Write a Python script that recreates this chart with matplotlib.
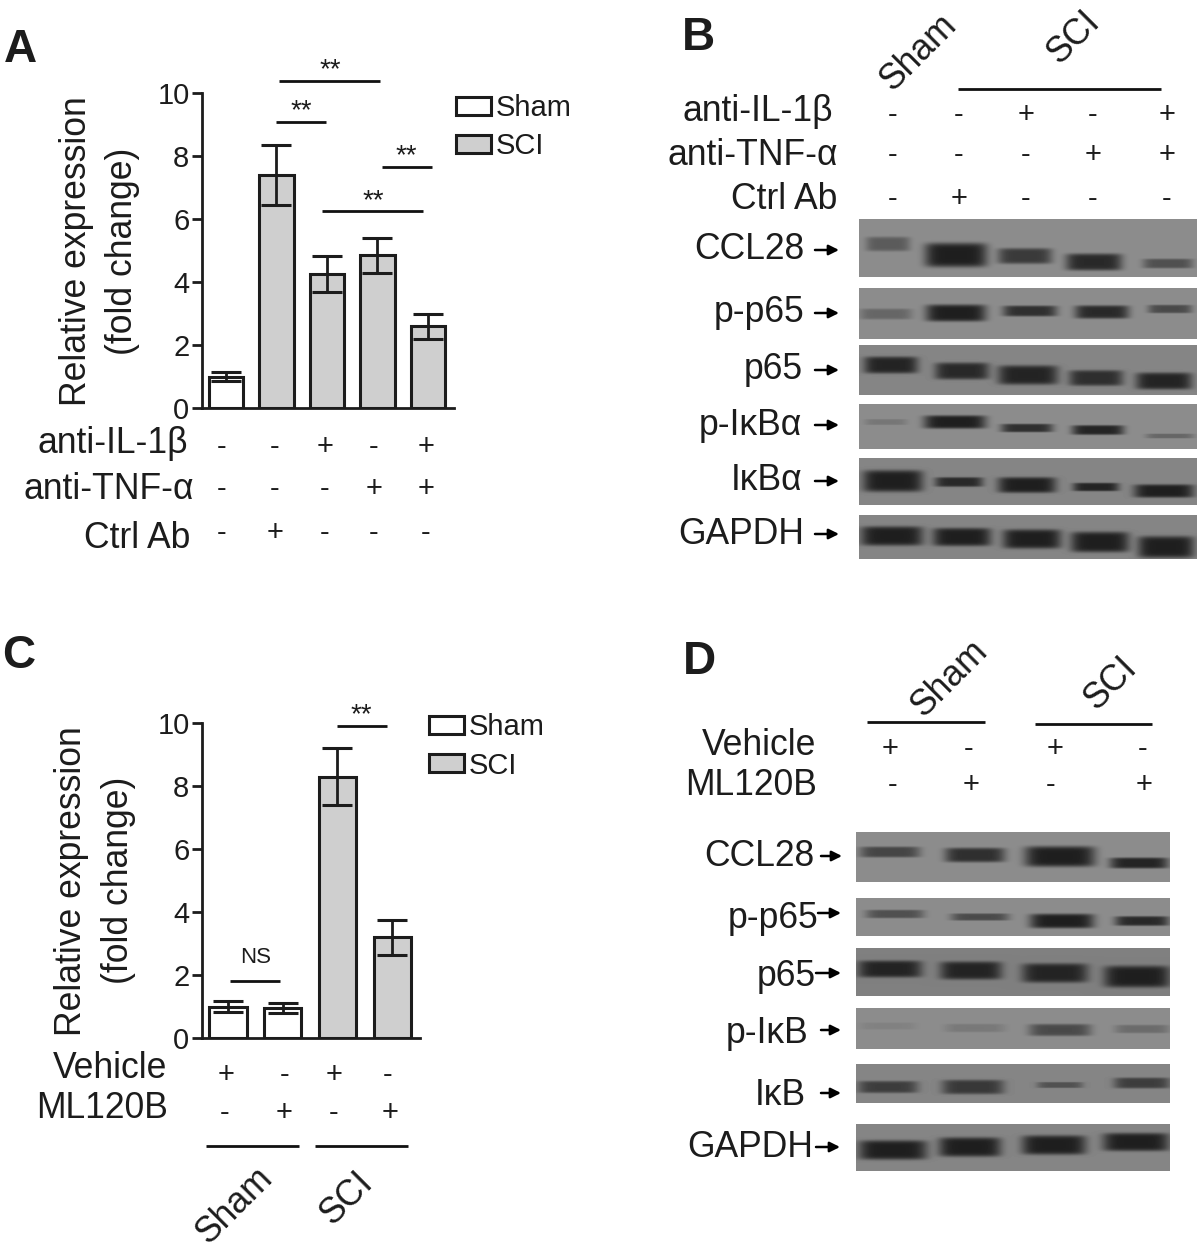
import numpy as np
import matplotlib
matplotlib.use("Agg")
import matplotlib.pyplot as plt
from matplotlib.patches import Patch

plt.rcParams['font.family'] = ['Liberation Sans', 'DejaVu Sans']

W, H = 1200, 1250
INK = '#1c1c1c'
GREY = '#cfcfcf'

# panel A
a_values = [1.0, 7.4, 4.25, 4.85, 2.6]
a_errors = [0.15, 0.95, 0.58, 0.55, 0.4]
a_colors = ['white', GREY, GREY, GREY, GREY]
a_il1 = ['-', '-', '+', '-', '+']
a_tnf = ['-', '-', '-', '+', '+']
a_ctrl = ['-', '+', '-', '-', '-']

# panel C
c_values = [1.0, 0.95, 8.3, 3.2]
c_errors = [0.17, 0.15, 0.9, 0.55]
c_colors = ['white', 'white', GREY, GREY]
c_vehicle = ['+', '-', '+', '-']
c_ml120b = ['-', '+', '-', '+']

yticks = [0, 2, 4, 6, 8, 10]

# panel B band strength, one per lane
b_ccl28 = [0.45, 1.0, 0.75, 0.9, 0.55]
b_pp65 = [0.35, 1.0, 0.85, 0.9, 0.6]
b_p65 = [0.95, 0.9, 0.95, 0.85, 0.95]
b_pikb = [0.2, 1.0, 0.85, 0.95, 0.35]
b_ikb = [1.0, 0.9, 1.0, 0.95, 1.0]
b_gapdh = [1.0, 1.0, 1.0, 1.0, 1.0]

# panel D band strength
d_ccl28 = [0.65, 0.85, 1.0, 0.95]
d_pp65 = [0.55, 0.6, 1.0, 0.9]
d_p65 = [0.95, 0.95, 0.95, 1.0]
d_pikb = [0.1, 0.18, 0.6, 0.3]
d_ikb = [0.7, 0.75, 0.5, 0.7]
d_gapdh = [1.0, 1.0, 1.0, 1.0]

b_names = ['CCL28', 'p-p65', 'p65', 'p-IκBα', 'IκBα', 'GAPDH']
d_names = ['CCL28', 'p-p65', 'p65', 'p-IκB', 'IκB', 'GAPDH']


def px_axes(left, right, top, bottom):
    return fig.add_axes([left / W, 1 - bottom / H, (right - left) / W, (bottom - top) / H])


def txt(x, y, s, size=25.6, ha='center', rot=0, **kw):
    # va center sits a little high for these fonts
    if rot == 0:
        y = y + 2.5
    over.text(x, y, s, fontsize=size, ha=ha, va='center', rotation=rot, color=INK, **kw)


def hline(x0, x1, y, lw=2.0):
    over.plot([x0, x1], [y, y], color='#111111', lw=lw, solid_capstyle='butt')


def arrow(x0, x1, y):
    over.annotate('', xy=(x1, y), xytext=(x0, y),
                  arrowprops=dict(arrowstyle='-|>', lw=1.8, color='k', mutation_scale=15,
                                  shrinkA=0, shrinkB=0))


def marks(xs, y, signs):
    for x, s in zip(xs, signs):
        txt(x, y - 2, s, size=21)


def blot(box, bg, geom, strength):
    x0, x1, y0, y1 = box
    xx, yy = np.meshgrid(np.arange(x0, x1) + 0.5, np.arange(y0, y1) + 0.5)
    img = np.full(xx.shape, float(bg))
    for (xc, hw, yc, hh), s in zip(geom, strength):
        a = np.exp(-(np.abs((xx - xc) / hw) ** 6 + np.abs((yy - yc) / (hh * 1.2)) ** 6))
        img = img - a * s * (bg - 0.12)
    over.imshow(img, extent=(x0, x1, y1, y0), cmap='gray', vmin=0, vmax=1,
                aspect='auto', interpolation='bilinear')


def bars(ax, values, errors, colors, width, xlim):
    xs = np.arange(len(values))
    ax.bar(xs, values, width, color=colors, edgecolor=INK, linewidth=2.2,
           yerr=errors, ecolor=INK, capsize=10.5, error_kw=dict(elinewidth=2, capthick=2.2))
    ax.set_xlim(*xlim)
    ax.set_ylim(0, 10)
    ax.set_yticks(yticks)
    ax.set_xticks([])
    ax.tick_params(axis='y', length=7, width=2, labelsize=21, color=INK, labelcolor=INK, pad=2)
    ax.spines[['top', 'right']].set_visible(False)
    ax.spines[['left', 'bottom']].set_linewidth(2)
    ax.spines[['left', 'bottom']].set_color(INK)
    ax.patch.set_alpha(0)


def legend(ax, x, y):
    handles = [Patch(facecolor='white', edgecolor=INK, linewidth=2.2, label='Sham'),
               Patch(facecolor=GREY, edgecolor=INK, linewidth=2.2, label='SCI')]
    leg = ax.legend(handles=handles, loc='upper left', bbox_to_anchor=(x / W, 1 - y / H),
                    bbox_transform=fig.transFigure, frameon=False, fontsize=21, borderpad=0,
                    borderaxespad=0, handlelength=1.2, handleheight=0.58, handletextpad=0.16,
                    labelspacing=0.36)
    for t in leg.get_texts():
        t.set_color(INK)


fig = plt.figure(figsize=(W / 100, H / 100), dpi=100, facecolor='white')
over = fig.add_axes([0, 0, 1, 1])
over.axis('off')

# Panel A
ax_a = px_axes(202, 454, 93, 408)
bars(ax_a, a_values, a_errors, a_colors, 0.69, (-0.475, 4.515))
legend(ax_a, 456, 94)
txt(20, 47, 'A', size=33, fontweight='bold')
txt(77, 251, 'Relative expression', rot=90)
txt(122, 251, '(fold change)', rot=90)
for x0, x1, y, sx, sy in [(279, 380, 81, 330, 68), (276, 326, 122, 301, 109),
                          (382, 432, 167, 406, 154), (322, 423, 211, 373, 199)]:
    hline(x0, x1, y)
    txt(sx, sy, '**', size=20)
a_cols = [222, 275, 325, 374, 426]
txt(188, 441, 'anti-IL-1β', ha='right')
txt(194, 487, 'anti-TNF-α', ha='right')
txt(190, 536, 'Ctrl Ab', ha='right')
marks(a_cols, 447, a_il1)
marks(a_cols, 489, a_tnf)
marks(a_cols, 532, a_ctrl)

# Panel C
ax_c = px_axes(202, 420, 723, 1038)
bars(ax_c, c_values, c_errors, c_colors, 0.68, (-0.475, 3.51))
legend(ax_c, 429, 713)
txt(19, 653, 'C', size=33, fontweight='bold')
txt(72, 881, 'Relative expression', rot=90)
txt(118, 880, '(fold change)', rot=90)
hline(230, 280, 981)
txt(256, 955, 'NS', size=16)
hline(337, 387, 726)
txt(361, 713, '**', size=20)
txt(167, 1066, 'Vehicle', ha='right')
txt(168, 1106, 'ML120B', ha='right')
marks([226, 285, 334, 388], 1075, c_vehicle)
marks([225, 284, 334, 390], 1112, c_ml120b)
hline(206, 299, 1146)
hline(315, 408, 1146)
txt(234, 1205, 'Sham', rot=45)
txt(347, 1198, 'SCI', rot=45)

# Panel B
txt(698, 35, 'B', size=33, fontweight='bold')
txt(918, 52, 'Sham', rot=45)
txt(1074, 37, 'SCI', rot=45)
hline(958, 1161, 89)
b_cols = [893, 959, 1026, 1093, 1167]
txt(833, 109, 'anti-IL-1β', ha='right')
txt(838, 153, 'anti-TNF-α', ha='right')
txt(837, 197, 'Ctrl Ab', ha='right')
marks(b_cols, 115, a_il1)
marks(b_cols, 155, a_tnf)
marks(b_cols, 198, a_ctrl)

b_boxes = [(859, 1197, 219, 277), (859, 1197, 288, 339), (859, 1197, 345, 395),
           (859, 1197, 404, 449), (859, 1197, 458, 505), (859, 1197, 515, 559)]
b_bg = [0.55, 0.55, 0.52, 0.55, 0.52, 0.52]
b_geom = [
    [(888, 22, 244, 6), (956, 31, 255, 10), (1025, 27, 256, 6.5), (1094, 28, 262, 7), (1168, 25, 263.5, 4)],
    [(886, 26, 314, 4.5), (956, 30, 313, 7), (1030, 27, 311, 4.5), (1102, 27, 312, 5.5), (1170, 22, 309, 3.5)],
    [(891, 27, 365, 7), (962, 27, 371, 7), (1028, 30, 375, 8), (1096, 27, 378, 6.5), (1164, 28, 381, 7)],
    [(886, 21, 422, 2.5), (955, 31, 422, 5.5), (1027, 26, 428, 3.5), (1098, 26, 430, 4), (1170, 24, 436, 2)],
    [(893, 30, 481, 9), (959, 24, 482, 4), (1027, 29, 485, 6.5), (1096, 23, 487, 3.5), (1164, 30, 491, 5.5)],
    [(892, 31, 536, 8), (962, 29, 537, 7.5), (1032, 29, 539, 8), (1100, 29, 542, 8.5), (1166, 28, 547, 9)],
]
b_strength = [b_ccl28, b_pp65, b_p65, b_pikb, b_ikb, b_gapdh]
for box, bg, geom, s in zip(b_boxes, b_bg, b_geom, b_strength):
    blot(box, bg, geom, s)
b_label_xy = [(804, 247), (804, 310), (803, 367), (802, 423), (802, 478), (804, 532)]
b_arrow_y = [250, 313, 370, 425, 481, 534]
for name, (x, y), ay in zip(b_names, b_label_xy, b_arrow_y):
    txt(x, y, name, ha='right')
    arrow(815, 839, ay)

# Panel D
txt(699, 660, 'D', size=33, fontweight='bold')
txt(949, 678, 'Sham', rot=45)
txt(1111, 683, 'SCI', rot=45)
hline(867, 985, 722)
hline(1035, 1152, 724)
txt(816, 743, 'Vehicle', ha='right')
txt(817, 783, 'ML120B', ha='right')
marks([890, 969, 1055, 1143], 749, c_vehicle)
marks([893, 971, 1051, 1144], 785, c_ml120b)

d_boxes = [(856, 1170, 832, 882), (856, 1170, 898, 936), (856, 1170, 948, 996),
           (856, 1170, 1008, 1049), (856, 1170, 1064, 1103), (856, 1170, 1124, 1171)]
d_bg = [0.55, 0.55, 0.5, 0.55, 0.52, 0.52]
d_geom = [
    [(890, 30, 852, 4.5), (975, 30, 855, 6), (1060, 35, 856.5, 8.5), (1139, 29, 863, 4.5)],
    [(895, 29, 914, 3.5), (980, 29, 917, 3), (1062, 32, 921, 6), (1142, 27, 921, 4)],
    [(890, 32, 969, 7), (971, 31, 970.5, 7.5), (1055, 33, 973, 8), (1137, 33, 976.6, 9)],
    [(888, 28, 1026, 3), (975, 30, 1028, 3.5), (1060, 31, 1030, 5), (1142, 27, 1029, 3.5)],
    [(888, 30, 1087, 5), (973, 31, 1087, 6), (1060, 23, 1085, 2.5), (1142, 28, 1083, 4.5)],
    [(893, 34, 1150, 8), (970, 31, 1147, 8), (1054, 32, 1145, 8), (1136, 33, 1142, 7.5)],
]
d_strength = [d_ccl28, d_pp65, d_p65, d_pikb, d_ikb, d_gapdh]
for box, bg, geom, s in zip(d_boxes, d_bg, d_geom, d_strength):
    blot(box, bg, geom, s)
d_label_xy = [(815, 854), (818, 916), (816, 974), (808, 1031), (806, 1093), (813, 1145)]
d_arrows = [(821, 842, 856), (818, 841, 913), (816, 841, 973), (821, 841, 1030), (821, 841, 1093), (816, 840, 1147)]
for name, (x, y), (ax0, ax1, ay) in zip(d_names, d_label_xy, d_arrows):
    txt(x, y, name, ha='right')
    arrow(ax0, ax1, ay)

over.set_xlim(0, W)
over.set_ylim(H, 0)

fig.savefig('out.png', dpi=100)
